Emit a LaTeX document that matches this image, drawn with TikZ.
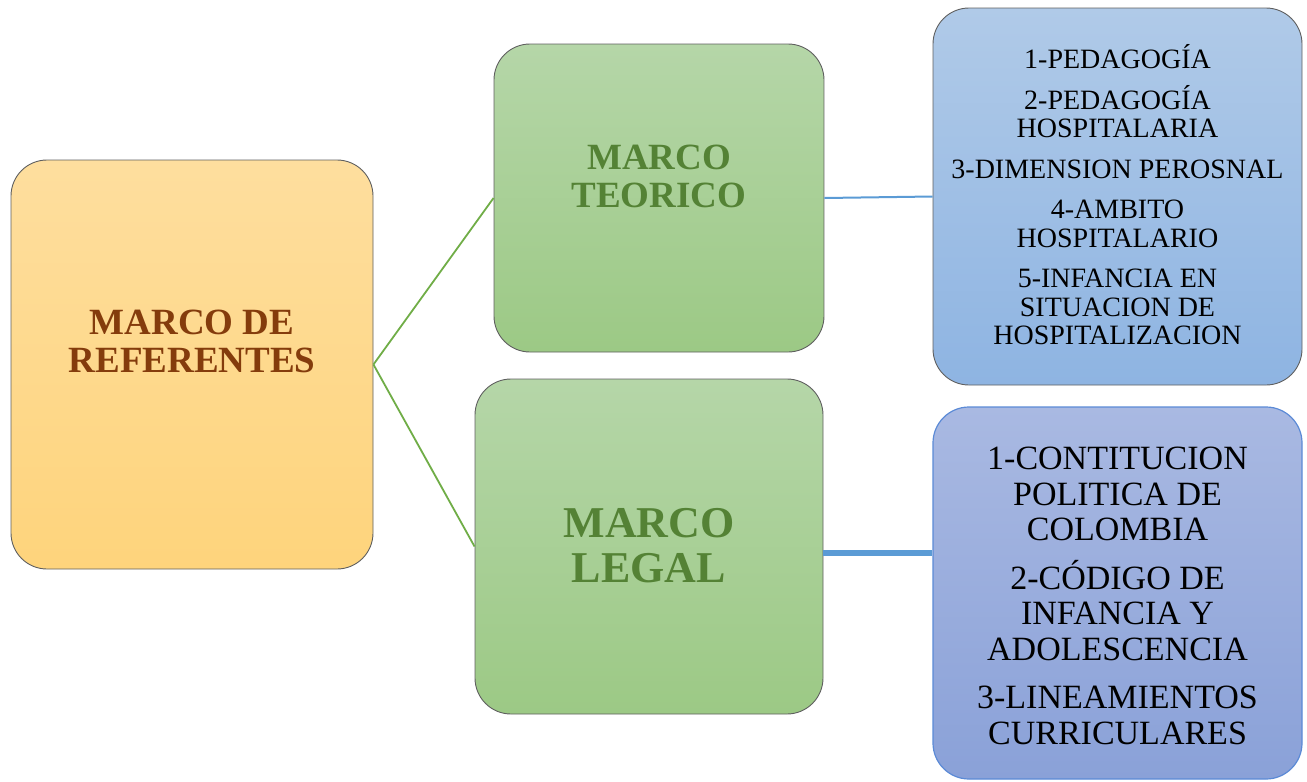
\documentclass[tikz,border=0pt]{standalone}
\usepackage{fontspec}
\setmainfont{Liberation Serif}
\definecolor{orTop}{HTML}{FEDE9E}
\definecolor{orBot}{HTML}{FED47C}
\definecolor{orText}{HTML}{843C0C}
\definecolor{grTop}{HTML}{B5D6A8}
\definecolor{grBot}{HTML}{9CC985}
\definecolor{grText}{HTML}{548235}
\definecolor{grLine}{HTML}{70AD47}
\definecolor{b1Top}{HTML}{B0CAE8}
\definecolor{b1Bot}{HTML}{8EB4E2}
\definecolor{b2Top}{HTML}{A9B9E2}
\definecolor{b2Bot}{HTML}{8AA1D8}
\definecolor{b2Border}{HTML}{5B8AD6}
\definecolor{blLine}{HTML}{5B9BD5}
\definecolor{boxBorder}{HTML}{5F5F5F}
\begin{document}
\begin{tikzpicture}[x=1pt,y=-1pt,
  box/.style={draw=boxBorder, line width=0.9pt, rounded corners=36pt, inner sep=0pt},
  orangebox/.style={box, top color=orTop, bottom color=orBot},
  greenbox/.style={box, top color=grTop, bottom color=grBot},
  blueboxA/.style={box, top color=b1Top, bottom color=b1Bot},
  blueboxB/.style={box, draw=b2Border, line width=1.2pt, top color=b2Top, bottom color=b2Bot},
  bigtitle/.style={align=center, font=\bfseries\fontsize{37}{38}\selectfont, inner sep=0pt},
  listA/.style={align=center, font=\fontsize{28}{28.5}\selectfont, inner sep=0pt},
  listB/.style={align=center, font=\fontsize{34}{35.5}\selectfont, inner sep=0pt},
  gline/.style={draw=grLine, line width=1.8pt},
]
\useasboundingbox (0,0) rectangle (1307,782);
% boxes
\node[orangebox, minimum width=362pt, minimum height=409pt] (ref) at (192,364.5) {};
\node[greenbox, minimum width=330pt, minimum height=308pt] (teo) at (659,198) {};
\node[greenbox, minimum width=348pt, minimum height=335pt] (leg) at (649,546.5) {};
\node[blueboxA, minimum width=369pt, minimum height=377pt] (lista) at (1117.5,196.5) {};
\node[blueboxB, minimum width=369pt, minimum height=372pt] (listb) at (1117.5,593) {};
% connectors
\draw[gline] (ref.east) -- (teo.west);
\draw[gline] (ref.east) -- (leg.west);
\draw[draw=blLine, line width=2pt] (teo.east) -- (lista.west);
\draw[draw=blLine, line width=6pt] (leg.east |- 0,553) -- (listb.west |- 0,553);
% texts
\node[bigtitle, text=orText] (reft) at (192,341) {MARCO DE\\REFERENTES};
\node[bigtitle, text=grText] (teot) at (659,176) {MARCO\\TEORICO};
\node[bigtitle, text=grText, font=\bfseries\fontsize{44}{45}\selectfont] (legt) at (649,546) {MARCO\\LEGAL};
\node[listA] (listat) at (1117.5,195) {1-PEDAGOGÍA\\[12pt]2-PEDAGOGÍA\\HOSPITALARIA\\[12pt]3-DIMENSION PEROSNAL\\[12pt]4-AMBITO\\HOSPITALARIO\\[12pt]5-INFANCIA EN\\SITUACION DE\\HOSPITALIZACION};
\node[listB] (listbt) at (1117.5,596) {1-CONTITUCION\\POLITICA DE\\COLOMBIA\\[13pt]2-CÓDIGO DE\\INFANCIA Y\\ADOLESCENCIA\\[13pt]3-LINEAMIENTOS\\CURRICULARES};
\end{tikzpicture}
\end{document}
